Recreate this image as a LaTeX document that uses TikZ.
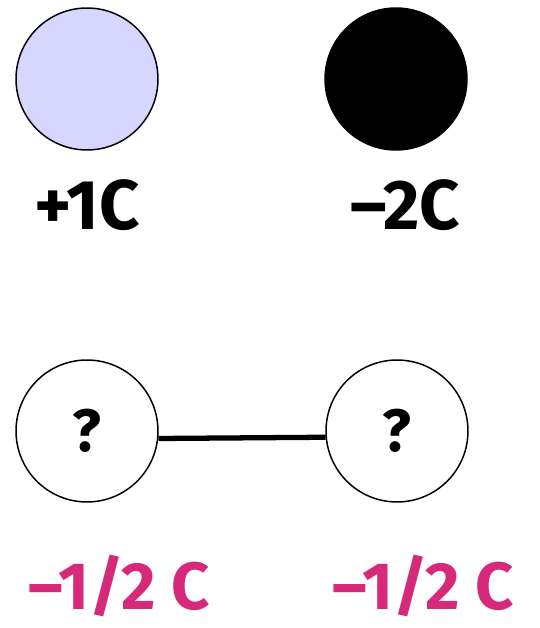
\documentclass[tikz,border=0pt]{standalone}
\usepackage{fontspec}
\setmainfont{Fira Sans}
\definecolor{chargeblue}{RGB}{214,214,255}
\definecolor{sharepink}{RGB}{214,41,122}
\tikzset{
  sphere/.style={circle, draw, line width=0.85pt, minimum size=2.84cm, inner sep=0pt},
  charge/.style={anchor=base, font=\fontsize{40}{44}\selectfont\bfseries},
  share/.style={charge, inner sep=0pt, font=\fontsize{38}{42}\selectfont\bfseries, text=sharepink},
}

\begin{document}
\begin{tikzpicture}[x=0.02cm, y=0.02cm]
  \useasboundingbox (0,0) rectangle (540,628);
  % before contact
  \node[sphere, fill=chargeblue] (A) at (87,549) {};
  \node[sphere, fill=black] (B) at (396,549) {};
  \node[charge] (qA) at (87,398) {+1C};
  \node[charge] (qB) at (405,398) {–2C};

  % after contact
  \node[sphere, font=\fontsize{34}{38}\selectfont\bfseries] (C) at (87,197) {?};
  \node[sphere, font=\fontsize{34}{38}\selectfont\bfseries] (D) at (397,197) {?};
  \draw[line width=3pt] (C.-6) -- (D.185);
  \node[share] (qC) at (119,18) {–1/2 C};
  \node[share] (qD) at (423,18) {–1/2 C};
\end{tikzpicture}
\end{document}
